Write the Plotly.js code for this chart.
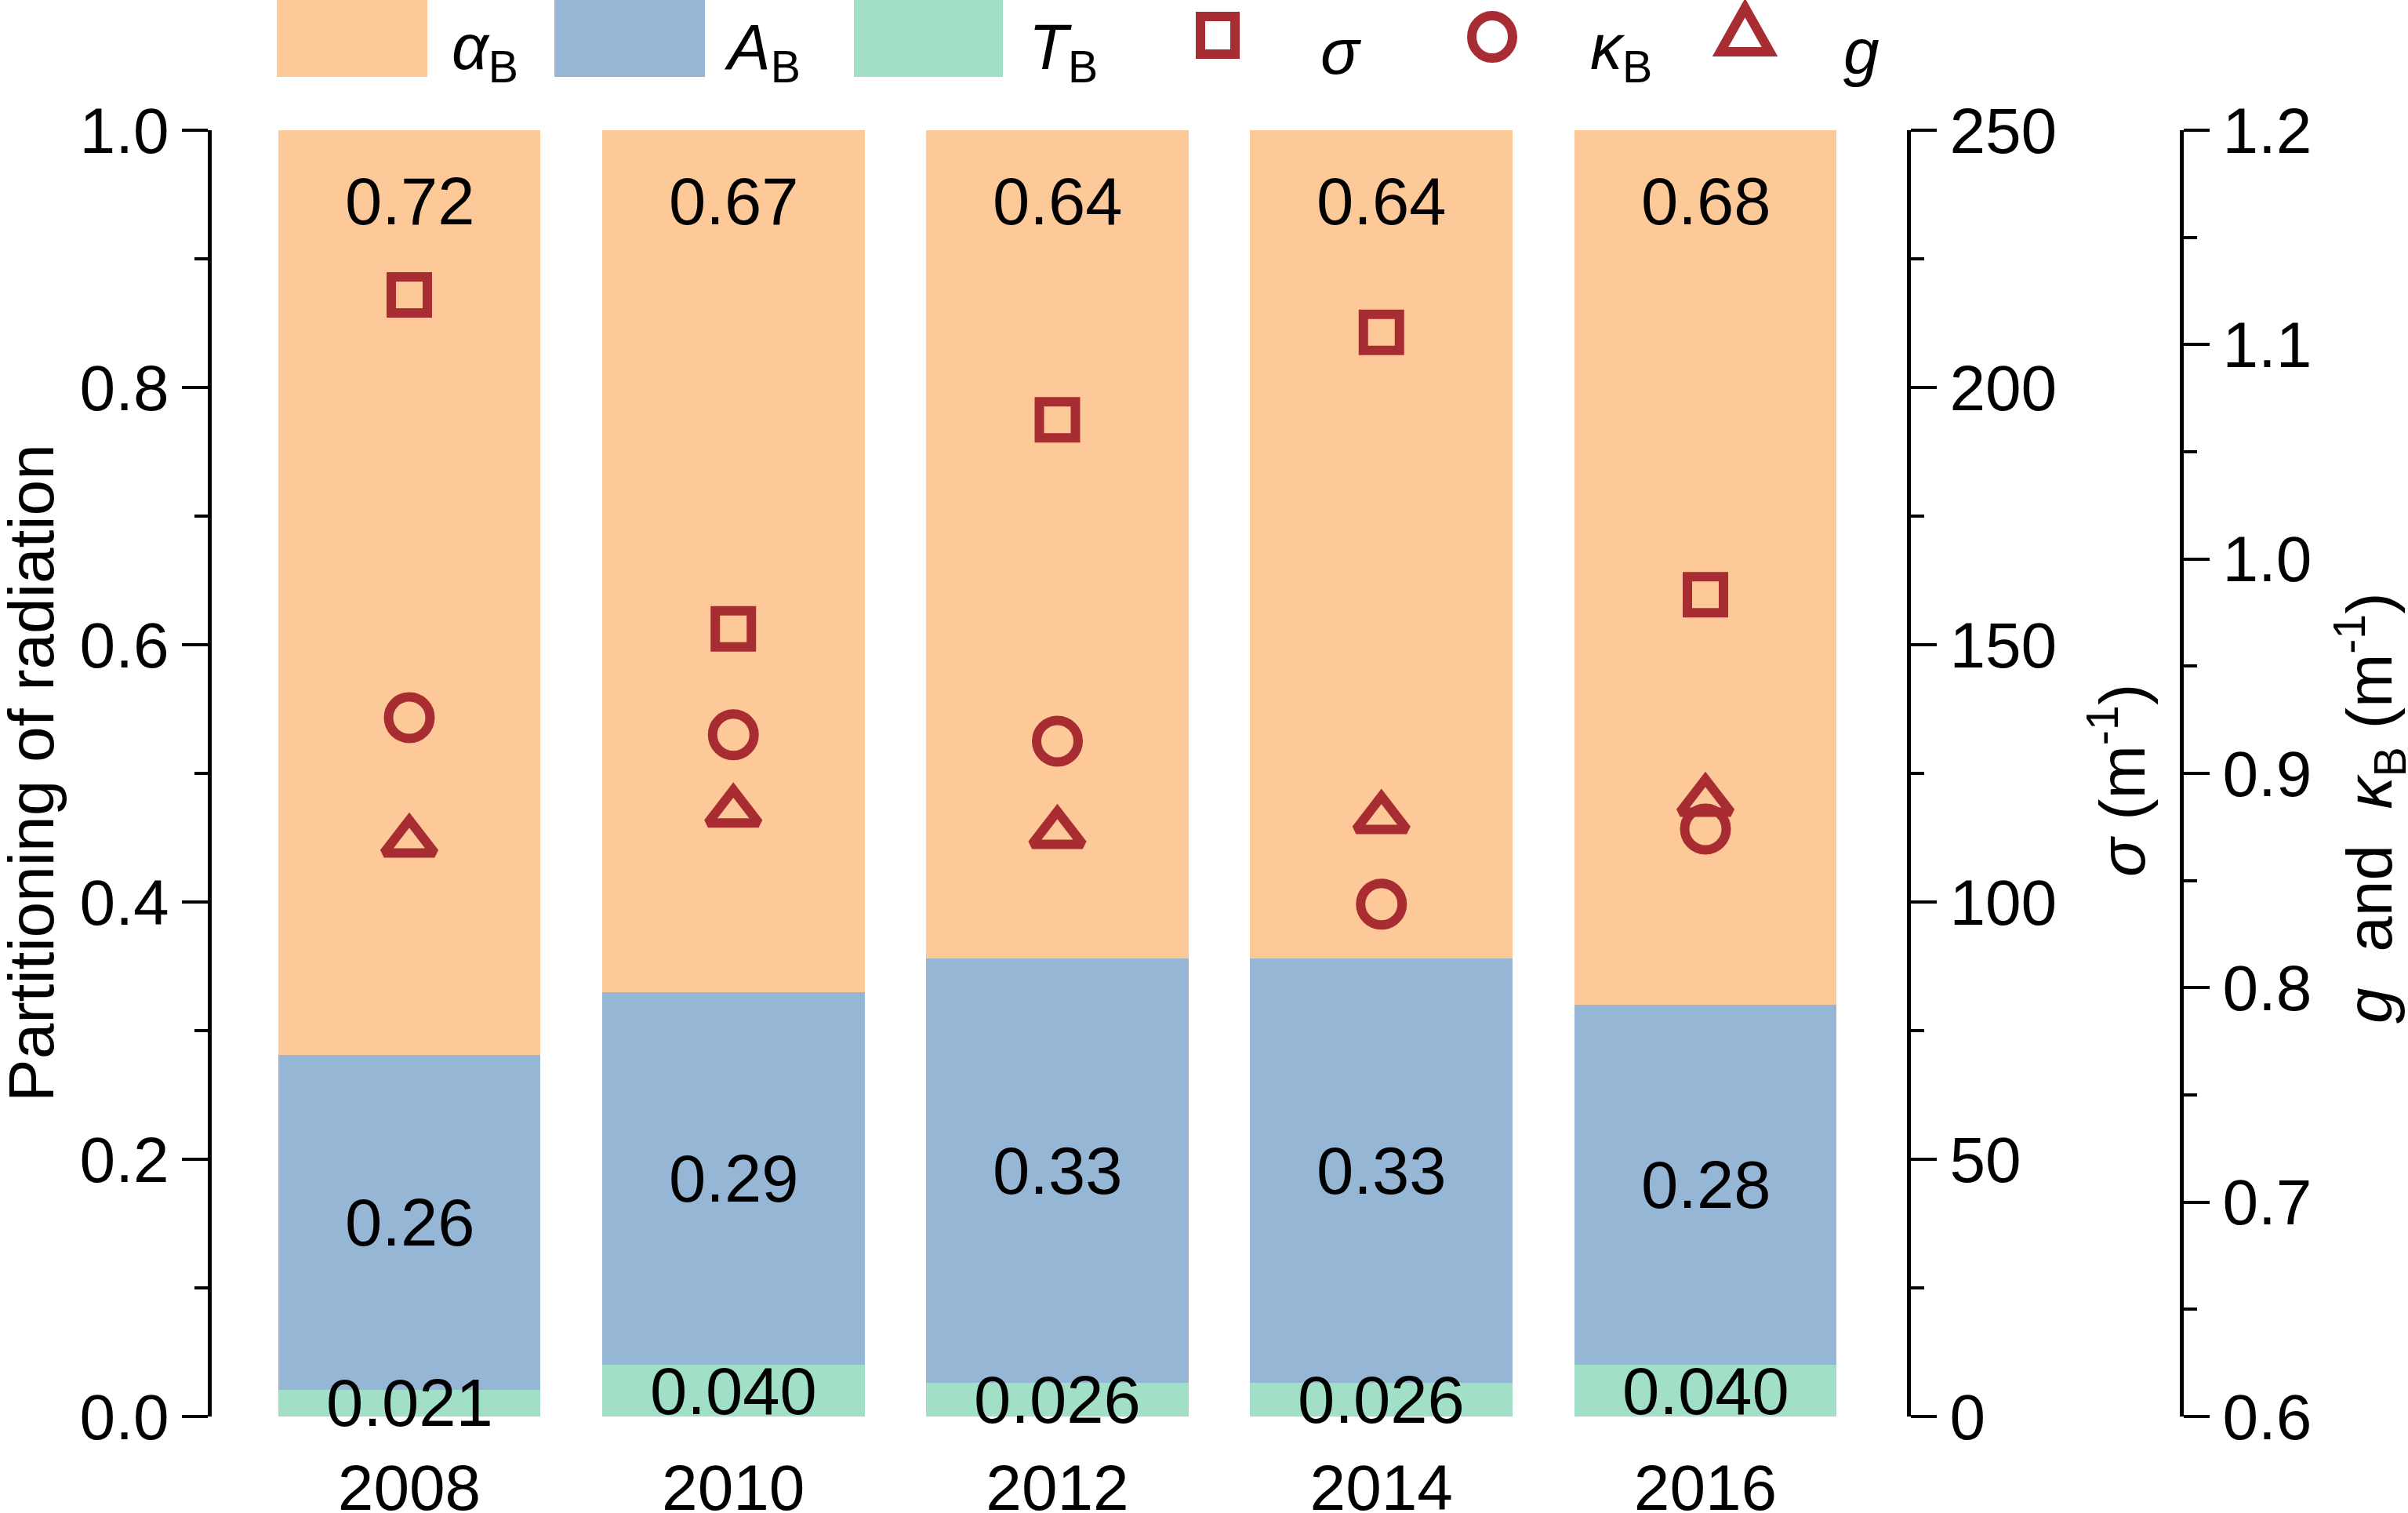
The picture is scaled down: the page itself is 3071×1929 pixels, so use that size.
<!DOCTYPE html>
<html>
<head>
<meta charset="utf-8">
<script src="https://cdn.plot.ly/plotly-3.0.1.min.js"></script>
<style>html,body{margin:0;padding:0;background:#fff;}#chart{width:3071px;height:1929px;}</style>
</head>
<body>
<div id="chart"></div>
<script>
// ---- data ----
var years = ['2008', '2010', '2012', '2014', '2016'];
var T_B = [0.021, 0.040, 0.026, 0.026, 0.040];      // transmittance
var A_B = [0.260, 0.290, 0.330, 0.330, 0.280];      // absorptance
var alpha_B = [0.719, 0.670, 0.644, 0.644, 0.680];  // albedo
var sigma = [218.0, 153.1, 193.7, 210.7, 159.7];    // m^-1
var kappa_B = [0.926, 0.918, 0.915, 0.839, 0.874];  // m^-1
var g = [0.868, 0.882, 0.872, 0.879, 0.887];

var leftTicks = [0, 0.2, 0.4, 0.6, 0.8, 1.0];
var sigmaTicks = [0, 50, 100, 150, 200, 250];
var gTicks = [0.6, 0.7, 0.8, 0.9, 1.0, 1.1, 1.2];

// ---- styles ----
var FONT = 'Liberation Sans, Arial, Helvetica, sans-serif';
var FS = 82;
var cOrange = '#FEC998', cBlue = '#96B6D6', cGreen = '#A1DFC6', cRed = '#A82D32';

// layout geometry (pixels)
var L = 270, R = 2782, TOP = 166, BOT = 1806;
function px2x(px) { return (px - L) / (R - L); }
function py2y(py) { return (BOT - py) / (BOT - TOP); }
var xDomEnd = (2434 - L) / (R - L);

var traces = [
  {type: 'bar', name: 'T_B', x: years, y: T_B, marker: {color: cGreen, line: {width: 0}}, hoverinfo: 'none'},
  {type: 'bar', name: 'A_B', x: years, y: A_B, marker: {color: cBlue, line: {width: 0}}, hoverinfo: 'none'},
  {type: 'bar', name: 'alpha_B', x: years, y: alpha_B, marker: {color: cOrange, line: {width: 0}}, hoverinfo: 'none'},
  {type: 'scatter', mode: 'markers', name: 'sigma', x: years, y: sigma, yaxis: 'y2',
   marker: {symbol: 'square-open', size: 46, color: cRed, line: {width: 12, color: cRed}}, hoverinfo: 'none'},
  {type: 'scatter', mode: 'markers', name: 'kappa_B', x: years, y: kappa_B, yaxis: 'y3',
   marker: {symbol: 'circle-open', size: 53, color: cRed, line: {width: 12, color: cRed}}, hoverinfo: 'none'},
  {type: 'scatter', mode: 'markers', name: 'g', x: years, y: g, yaxis: 'y3',
   marker: {symbol: 'triangle-up-open', size: 56, color: cRed, line: {width: 12, color: cRed}}, hoverinfo: 'none'}
];

var annotations = [];
var font = {family: FONT, size: FS, color: '#000'};
var lblFont = {family: FONT, size: 85, color: '#000'};
years.forEach(function (yr, i) {
  annotations.push({xref: 'x', yref: 'y', x: i, y: T_B[i] / 2, text: T_B[i].toFixed(3), showarrow: false, font: lblFont, yanchor: 'middle'});
  annotations.push({xref: 'x', yref: 'y', x: i, y: T_B[i] + A_B[i] / 2, text: A_B[i].toFixed(2), showarrow: false, font: lblFont, yanchor: 'middle'});
  annotations.push({xref: 'x', yref: 'y', x: i, y: T_B[i] + A_B[i] + alpha_B[i] - 0.055, text: alpha_B[i].toFixed(2), showarrow: false, font: lblFont, yanchor: 'middle'});
});

// axis titles
annotations.push({xref: 'paper', yref: 'paper', x: px2x(39), y: py2y(986), text: 'Partitioning of radiation',
  textangle: -90, showarrow: false, font: font, xanchor: 'center', yanchor: 'middle'});
annotations.push({xref: 'paper', yref: 'paper', x: px2x(2700), y: py2y(995), text: '<i>σ</i> (m<sup>-1</sup>)',
  textangle: -90, showarrow: false, font: font, xanchor: 'center', yanchor: 'middle'});
annotations.push({xref: 'paper', yref: 'paper', x: px2x(3022), y: py2y(1030), text: '<i>g</i>\u00a0\u00a0and\u00a0\u00a0<i>κ</i><sub>B</sub> (m<sup>-1</sup>)',
  textangle: -90, showarrow: false, font: font, xanchor: 'center', yanchor: 'middle'});

// legend (drawn as shapes + text)
var legText = [
  {x: 574, t: '<i>α</i><sub>B</sub>'},
  {x: 921, t: '<i>A</i><sub>B</sub>'},
  {x: 1310, t: '<i>T</i><sub>B</sub>'},
  {x: 1682, t: '<i>σ</i>'},
  {x: 2026, t: '<i>κ</i><sub>B</sub>'},
  {x: 2349, t: '<i>g</i>'}
];
legText.forEach(function (d) {
  annotations.push({xref: 'paper', yref: 'paper', x: px2x(d.x), y: py2y(66), text: d.t, showarrow: false,
    font: font, xanchor: 'left', yanchor: 'middle'});
});

var shapes = [];
function rectPx(x0, y0, x1, y1, fill, lw, lc) {
  return {type: 'rect', xref: 'paper', yref: 'paper', x0: px2x(x0), x1: px2x(x1), y0: py2y(y0), y1: py2y(y1),
    fillcolor: fill, line: {width: lw || 0, color: lc || 'rgba(0,0,0,0)'}, layer: 'above'};
}
shapes.push(rectPx(353, 0, 545, 98, cOrange));
shapes.push(rectPx(707, 0, 899, 98, cBlue));
shapes.push(rectPx(1089, 0, 1279, 98, cGreen));
shapes.push(rectPx(1531, 21, 1575, 69, 'rgba(0,0,0,0)', 12, cRed));
shapes.push({type: 'circle', xref: 'paper', yref: 'paper', x0: px2x(1877), x1: px2x(1929), y0: py2y(20), y1: py2y(74),
  fillcolor: 'rgba(0,0,0,0)', line: {width: 12, color: cRed}, layer: 'above'});
shapes.push({type: 'path', xref: 'paper', yref: 'paper',
  path: 'M ' + px2x(2194) + ' ' + py2y(66) + ' L ' + px2x(2257) + ' ' + py2y(66) + ' L ' + px2x(2225.5) + ' ' + py2y(10) + ' Z',
  fillcolor: 'rgba(0,0,0,0)', line: {width: 12, color: cRed}, layer: 'above'});

var axisCommon = {
  showgrid: false, zeroline: false, showline: true, linewidth: 5, linecolor: '#000',
  ticks: 'outside', ticklen: 33, tickwidth: 4, tickcolor: '#000',
  tickfont: {family: FONT, size: FS, color: '#000'}, fixedrange: true
};

var layout = {
  width: 3071, height: 1929, autosize: false,
  margin: {l: L, r: 3071 - R, t: TOP, b: 1929 - BOT, pad: 0},
  paper_bgcolor: '#fff', plot_bgcolor: 'rgba(0,0,0,0)',
  showlegend: false, barmode: 'stack', bargap: 0.19,
  font: {family: FONT, size: FS, color: '#000'},
  xaxis: {type: 'category', domain: [0, xDomEnd], range: [-0.6098, 4.6267], showgrid: false, zeroline: false,
    showline: false, ticks: '', ticklabelstandoff: 36, tickfont: {family: FONT, size: FS, color: '#000'}, fixedrange: true},
  yaxis: Object.assign({}, axisCommon, {range: [0, 1], tickmode: 'array', tickvals: leftTicks,
    ticktext: leftTicks.map(function (v) { return v.toFixed(1); }),
    minor: {ticks: 'outside', ticklen: 17, tickwidth: 4, tickcolor: '#000', dtick: 0.1}}),
  yaxis2: Object.assign({}, axisCommon, {range: [0, 250], overlaying: 'y', side: 'right', anchor: 'free', position: xDomEnd,
    tickmode: 'array', tickvals: sigmaTicks, ticktext: sigmaTicks.map(String),
    minor: {ticks: 'outside', ticklen: 17, tickwidth: 4, tickcolor: '#000', dtick: 25}}),
  yaxis3: Object.assign({}, axisCommon, {range: [0.6, 1.2], overlaying: 'y', side: 'right', anchor: 'free', position: 1,
    tickmode: 'array', tickvals: gTicks, ticktext: gTicks.map(function (v) { return v.toFixed(1); }),
    minor: {ticks: 'outside', ticklen: 17, tickwidth: 4, tickcolor: '#000', dtick: 0.05}}),
  annotations: annotations,
  shapes: shapes
};

Plotly.newPlot('chart', traces, layout, {displayModeBar: false, staticPlot: true});
</script>
</body>
</html>
